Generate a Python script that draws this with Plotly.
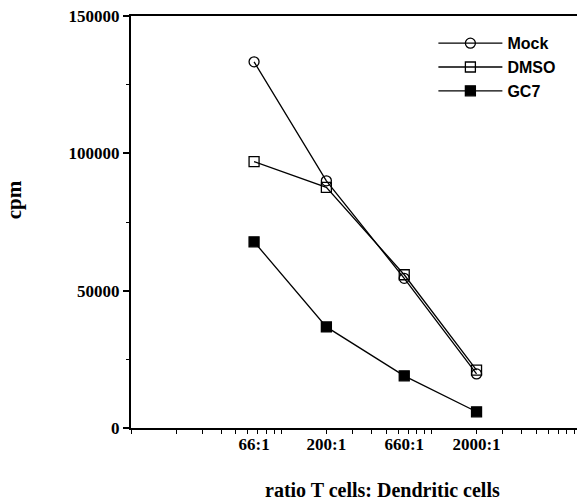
import plotly.graph_objects as go

ratios = [66, 200, 660, 2000]
ratio_labels = ["66:1", "200:1", "660:1", "2000:1"]
mock = [133300, 90000, 54500, 19700]
dmso = [97000, 87600, 55800, 21100]
gc7 = [67800, 36800, 19000, 5900]
y_ticks = [0, 50000, 100000, 150000]

serif = "Liberation Serif"
sans = "Liberation Sans"

fig = go.Figure()
series = [
    ("Mock", mock, "circle-open"),
    ("DMSO", dmso, "square-open"),
    ("GC7", gc7, "square"),
]
for name, vals, sym in series:
    fig.add_trace(go.Scatter(
        x=ratios, y=vals, name="<b>" + name + "</b>", mode="lines+markers",
        line=dict(color="black", width=1.3),
        marker=dict(symbol=sym, size=10, color="black",
                    line=dict(color="black", width=1.3)),
    ))

minor_vals = [m * d for d in (10, 100, 1000) for m in range(1, 10)]

fig.update_layout(
    width=577, height=500,
    margin=dict(l=131, r=0, t=16, b=72),
    paper_bgcolor="white", plot_bgcolor="white",
    showlegend=True,
    legend=dict(x=0.678, y=0.975, xanchor="left", yanchor="top",
                font=dict(family=sans, size=16, color="black"),
                bgcolor="rgba(0,0,0,0)", itemwidth=64, tracegroupgap=0),
    xaxis=dict(
        type="log", range=[1, 3.97],
        tickvals=ratios, ticktext=["<b>" + t + "</b>" for t in ratio_labels],
        ticks="outside", ticklen=0, ticklabelstandoff=0,
        tickfont=dict(family=serif, size=17, color="black"),
        showline=True, linecolor="black", linewidth=2, mirror=True,
        showgrid=False, zeroline=False,
        minor=dict(tickvals=minor_vals, ticks="outside", ticklen=4,
                   tickcolor="black", tickwidth=1, showgrid=False),
    ),
    yaxis=dict(
        range=[0, 150000],
        tickvals=y_ticks,
        ticktext=["<b>" + str(v) + "</b>" for v in y_ticks],
        ticks="outside", ticklen=6, tickwidth=1.5, tickcolor="black",
        tickfont=dict(family=serif, size=17, color="black"),
        showline=True, linecolor="black", linewidth=2,
        showgrid=False, zeroline=False,
        minor=dict(dtick=25000, ticks="outside", ticklen=3,
                   tickcolor="black", tickwidth=1, showgrid=False),
    ),
    annotations=[
        dict(text="<b>ratio T cells: Dendritic cells</b>", xref="paper", yref="paper",
             x=0.565, y=-0.150, xanchor="center", yanchor="middle", showarrow=False,
             font=dict(family=serif, size=20, color="black")),
        dict(text="<b>cpm</b>", xref="paper", yref="paper", textangle=-90,
             x=-0.262, y=0.553, xanchor="center", yanchor="middle", showarrow=False,
             font=dict(family=serif, size=21, color="black")),
    ],
)

fig.write_html("out.html", config={"displayModeBar": False},
               post_script="document.body.style.margin='0';")
